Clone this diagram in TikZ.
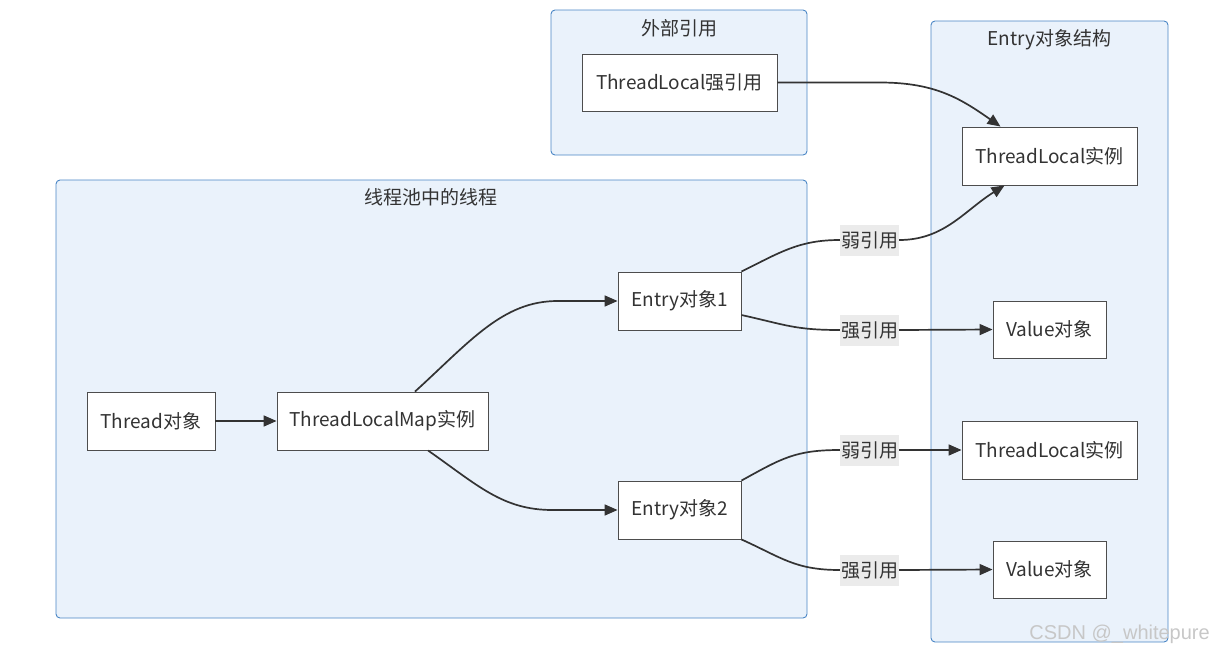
\documentclass[tikz,border=0pt]{standalone}
\usepackage{fontspec}
\setmainfont{Noto Sans CJK SC}
\newfontfamily\wmfont{Liberation Sans}
\usetikzlibrary{arrows.meta,calc}
\definecolor{clfill}{HTML}{EAF2FB}
\definecolor{cldraw}{HTML}{4A86C5}
\definecolor{nddraw}{HTML}{4D4D4D}
\definecolor{edcol}{HTML}{333333}
\definecolor{lbfill}{HTML}{EBEBEB}
\tikzset{
  cluster/.style={draw=cldraw, fill=clfill, rounded corners=4pt, line width=0.9pt},
  cltitle/.style={text=edcol, font=\fontsize{19}{22}\selectfont, inner sep=0pt},
  box/.style={draw=nddraw, fill=white, line width=0.9pt, text=edcol,
    font=\fontsize{19}{22}\selectfont, inner sep=0pt, anchor=center},
  elabel/.style={fill=lbfill, text=edcol, font=\fontsize{19}{22}\selectfont,
    inner sep=0pt, minimum width=59pt, minimum height=31pt},
  edge/.style={draw=edcol, line width=1.7pt, -{Triangle[length=13pt,width=11pt]}},
  seg/.style={draw=edcol, line width=1.7pt},
}
\begin{document}
\begin{tikzpicture}[x=1pt,y=-1pt]
\useasboundingbox (0,0) rectangle (1214,653);
% clusters
\draw[cluster] (551,10) rectangle (807,155);
\node[cltitle] (t1) at (679,28) {外部引用};
\draw[cluster] (931,21) rectangle (1168,642);
\node[cltitle] (t2) at (1049.5,40) {Entry对象结构};
\draw[cluster] (56,180) rectangle (807,618);
\node[cltitle] (t3) at (431,197) {线程池中的线程};
% nodes
\node[box, minimum width=195pt, minimum height=57pt] (TS) at (679.5,82.5) {ThreadLocal强引用};
\node[box, minimum width=175pt, minimum height=58pt] (TL1) at (1049.5,156) {ThreadLocal实例};
\node[box, minimum width=113pt, minimum height=57pt] (V1) at (1049.5,329.5) {Value对象};
\node[box, minimum width=175pt, minimum height=58pt] (TL2) at (1049.5,450) {ThreadLocal实例};
\node[box, minimum width=113pt, minimum height=57pt] (V2) at (1049.5,569.5) {Value对象};
\node[box, minimum width=128pt, minimum height=58pt] (TH) at (151,421) {Thread对象};
\node[box, minimum width=211pt, minimum height=58pt] (TM) at (382.5,421) {ThreadLocalMap实例};
\node[box, minimum width=123pt, minimum height=58pt] (E1) at (679.5,301) {Entry对象1};
\node[box, minimum width=123pt, minimum height=58pt] (E2) at (679.5,510) {Entry对象2};
% edge labels
\node[elabel] (L1) at (869.5,240) {弱引用};
\node[elabel] (L2) at (869.5,330) {强引用};
\node[elabel] (L3) at (869.5,450) {弱引用};
\node[elabel] (L4) at (869.5,570) {强引用};
% edges
\draw[edge] (TH.east) -- (TM.west);
\draw[edge] ($(TM.north)+(32.5,0)$) .. controls +(55,-50) and +(-55,0) .. ($(E1.west)+(-60,0)$) -- (E1.west);
\draw[edge] ($(TM.south)+(45.5,0)$) .. controls +(50,35) and +(-50,0) .. ($(E2.west)+(-65,0)$) -- (E2.west);
\draw[seg] (E1.north east) .. controls +(40,-20) and +(-40,0) .. (L1.west);
\draw[edge] (L1.east) .. controls +(45,0) and +(-40,25) .. ($(TL1.south)+(-45,0)$);
\draw[seg] ($(E1.east)+(0,14)$) .. controls +(45,10) and +(-45,0) .. (L2.west);
\draw[edge] (L2.east) -- (V1.west);
\draw[seg] (E2.north east) .. controls +(40,-22) and +(-45,0) .. (L3.west);
\draw[edge] (L3.east) -- (TL2.west);
\draw[seg] (E2.south east) .. controls +(40,18) and +(-45,0) .. (L4.west);
\draw[edge] (L4.east) -- (V2.west);
\draw[edge] (TS.east) -- (880,82.5) .. controls +(55,0) and +(-40,-28) .. ($(TL1.north)+(-49,0)$);
% watermark
\node[text=black!22, font=\wmfont\fontsize{20}{22}\selectfont, inner sep=0pt, anchor=east] (wm) at (1210,634) {CSDN @\_whitepure};
\end{tikzpicture}
\end{document}
